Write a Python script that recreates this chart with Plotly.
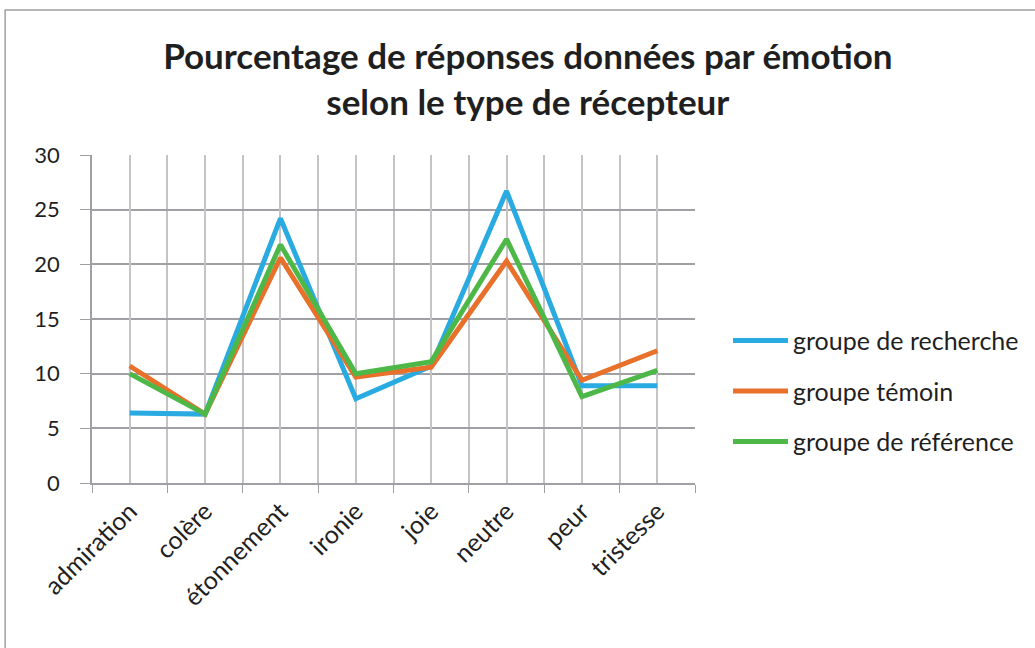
import plotly.graph_objects as go

# -----------------------------------
# Data
# -----------------------------------

emotions = ["admiration", "colère", "étonnement", "ironie",
            "joie", "neutre", "peur", "tristesse"]

recherche = [6.4, 6.3, 24.2, 7.7, 10.7, 26.7, 8.9, 8.9]
temoin = [10.7, 6.3, 20.6, 9.7, 10.6, 20.3, 9.4, 12.1]
reference = [10.0, 6.3, 21.8, 10.0, 11.1, 22.3, 7.9, 10.3]

series = [
    ("groupe de recherche", recherche, "#29ABE2"),
    ("groupe témoin", temoin, "#E8702A"),
    ("groupe de référence", reference, "#4DB848"),
]

FONT = "Lato, Open Sans, sans-serif"
TXT = "#1f1f1f"

fig = go.Figure()

for name, vals, color in series:
    fig.add_trace(go.Scatter(
        x=emotions,
        y=vals,
        name=name,
        legendgroup=name,
        mode="lines",
        line=dict(color=color, width=5),
    ))

# invisible trace on the overlay axis so its center gridlines render
fig.add_trace(go.Scatter(
    x=emotions, y=recherche, xaxis="x2", showlegend=False,
    mode="lines", line=dict(width=0), hoverinfo="skip", opacity=0,
))

# plot area: x 92..696, y 155..483
fig.update_layout(
    width=1035,
    height=648,
    paper_bgcolor="white",
    plot_bgcolor="white",
    margin=dict(l=92, r=339, t=155, b=165),
    font=dict(family=FONT, color=TXT),
    title=dict(
        text="<b>Pourcentage de réponses données par émotion<br>selon le type de récepteur</b>",
        x=0.51, xanchor="center",
        y=0.893, yanchor="middle",
        font=dict(size=35, family=FONT, color=TXT),
    ),
    xaxis=dict(
        type="category",
        categoryorder="array",
        categoryarray=emotions,
        tickson="boundaries",
        showgrid=True,
        gridcolor="#c4c4c4",
        gridwidth=1.5,
        showline=True,
        linecolor="#a0a0a4",
        linewidth=1.5,
        ticks="outside",
        ticklen=8,
        tickcolor="#a0a0a4",
        tickangle=-45,
        ticklabelstandoff=2,
        tickfont=dict(size=25, family=FONT, color=TXT),
        range=[-0.5, 7.5],
        zeroline=False,
    ),
    xaxis2=dict(
        type="category",
        categoryorder="array",
        categoryarray=emotions,
        overlaying="x",
        matches="x",
        showgrid=True,
        gridcolor="#c4c4c4",
        gridwidth=1.5,
        showticklabels=False,
        ticks="",
        showline=False,
        zeroline=False,
    ),
    yaxis=dict(
        range=[0, 30],
        dtick=5,
        showgrid=True,
        gridcolor="#a0a0a4",
        gridwidth=1.5,
        zeroline=False,
        showline=True,
        linecolor="#a0a0a4",
        linewidth=1.5,
        ticks="outside",
        ticklen=10,
        tickcolor="#a0a0a4",
        ticklabelstandoff=16,
        tickfont=dict(size=22, family=FONT, color=TXT),
    ),
    legend=dict(
        x=1.053, xanchor="left",
        y=0.28, yanchor="middle",
        font=dict(size=25, family=FONT, color=TXT),
        tracegroupgap=15,
        itemwidth=55,
        bgcolor="rgba(0,0,0,0)",
    ),
    shapes=[
        dict(type="rect", xref="paper", yref="paper",
             x0=-87 / 604, x1=1045 / 604, y0=-200 / 328, y1=473 / 328,
             line=dict(color="#a0a0a0", width=1.5), fillcolor="rgba(0,0,0,0)",
             layer="below"),
    ],
)

fig.write_html(
    "out.html",
    config={"displayModeBar": False},
    post_script="document.body.style.margin='0';",
)
